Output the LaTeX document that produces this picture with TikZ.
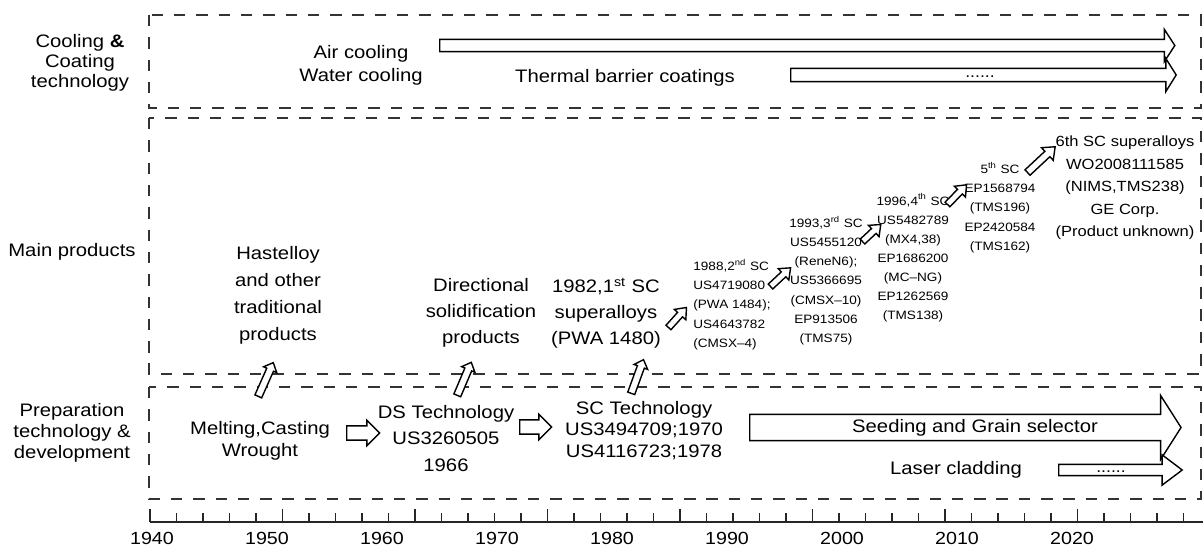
\documentclass[tikz,border=0pt]{standalone}
\usepackage{fontspec}
\setmainfont{Liberation Sans}[FakeStretch=1.12]
\usetikzlibrary{shapes.arrows}
\tikzset{>=latex}
\tikzset{
    box/.style={draw=black!80, line width=1.1pt, dash pattern=on 6.5pt off 6.2pt},
    bigtxt/.style={font=\fontsize{10.3}{#1}\selectfont, align=center, inner sep=0pt},
    bigtxt/.default=11.3pt,
    midtxt/.style={font=\fontsize{8.4}{12.8}\selectfont, align=center, inner sep=0pt},
    smalltxt/.style={font=\fontsize{6.9}{10.9}\selectfont, align=center, inner sep=0pt},
    dottxt/.style={font=\fontsize{9}{10}\selectfont, inner sep=0pt, anchor=base},
    hollow/.style={single arrow, draw=black, line width=0.8pt, fill=white,
        inner xsep=0pt, minimum width=0pt, anchor=tail},
    axisline/.style={draw=black!85, line width=1.1pt},
}

\begin{document}
\begin{tikzpicture}[x=0.02cm, y=-0.02cm]
    \useasboundingbox (0,0) rectangle (1203,547);
    % three bands
    \draw [box] (149,15) rectangle (1201,108);
    \draw [box] (149,118) rectangle (1201,374);
    \draw [box] (149,387) rectangle (1201,499);

    \node [bigtxt=11.3pt] (cool) at (80,63) {Cooling \textbf{\&}\\Coating\\technology};
    \node [bigtxt] (main) at (72,252) {Main products};
    \node [bigtxt=11.9pt] (prep) at (72,433) {Preparation\\technology \&\\development};

    % cooling & coating
    \node [bigtxt=13pt] (air) at (361,65) {Air cooling\\Water cooling};
    \node [bigtxt] (tbc) at (625,78) {Thermal barrier coatings};
    \node [hollow, minimum height=418.4pt, inner ysep=3.12pt, single arrow head extend=5.67pt, single arrow tip angle=114] (aair) at (439,45.5) {};
    \node [hollow, minimum height=219.4pt, inner ysep=3.4pt, single arrow head extend=5.67pt, single arrow tip angle=116] (atbc) at (790,75) {};
    \node [dottxt] (dtbc) at (980,77.5) {......};

    % products
    \node [bigtxt=15.3pt] (hast) at (278,295.5) {Hastelloy\\and other\\traditional\\products};
    \node [bigtxt=14.7pt] (dsp) at (481,313) {Directional\\solidification\\products};
    \node [bigtxt=14.7pt] (sc1) at (606,313) {1982,1\textsuperscript{st} SC\\superalloys\\(PWA 1480)};
    \node [smalltxt, align=left, anchor=west] (sc2) at (693,304.5) {1988,2\textsuperscript{nd} SC\\US4719080\\(PWA 1484);\\US4643782\\(CMSX--4)};
    \node [smalltxt] (sc3) at (826,280.5) {1993,3\textsuperscript{rd} SC\\US5455120\\(ReneN6);\\US5366695\\(CMSX--10)\\EP913506\\(TMS75)};
    \node [smalltxt] (sc4) at (913,258) {1996,4\textsuperscript{th} SC\\US5482789\\(MX4,38)\\EP1686200\\(MC--NG)\\EP1262569\\(TMS138)};
    \node [smalltxt] (sc5) at (1000,207.5) {5\textsuperscript{th} SC\\EP1568794\\(TMS196)\\EP2420584\\(TMS162)};
    \node [midtxt] (sc6) at (1125,188) {6th SC superalloys\\WO2008111585\\(NIMS,TMS238)\\GE Corp.\\(Product unknown)};

    \node [hollow, minimum height=15.3pt, inner ysep=1.5pt, single arrow head extend=2.5pt, single arrow tip angle=78, rotate=48] (a12) at (668,328) {};
    \node [hollow, minimum height=15.6pt, inner ysep=1.5pt, single arrow head extend=2.5pt, single arrow tip angle=78, rotate=43] (a23) at (770,287) {};
    \node [hollow, minimum height=14.2pt, inner ysep=1.5pt, single arrow head extend=2.5pt, single arrow tip angle=78, rotate=43] (a34) at (862,242) {};
    \node [hollow, minimum height=15.6pt, inner ysep=1.5pt, single arrow head extend=2.5pt, single arrow tip angle=78, rotate=46] (a45) at (947,205) {};
    \node [hollow, minimum height=21.5pt, inner ysep=1.7pt, single arrow head extend=2.8pt, single arrow tip angle=78, rotate=43] (a56) at (1027,173) {};

    % preparation
    \node [bigtxt=12.5pt] (melt) at (260,441) {Melting,Casting\\Wrought};
    \node [bigtxt=15pt] (ds) at (446,438.5) {DS Technology\\US3260505\\1966};
    \node [bigtxt=12.2pt] (sc) at (644,430.5) {SC Technology\\US3494709;1970\\US4116723;1978};
    \node [hollow, minimum height=18.7pt, inner ysep=3.68pt, single arrow head extend=3.12pt, single arrow tip angle=90] (m2ds) at (346,433) {};
    \node [hollow, minimum height=18.1pt, inner ysep=3.68pt, single arrow head extend=3.12pt, single arrow tip angle=90] (ds2sc) at (519,427) {};
    \node [hollow, minimum height=245.5pt, inner ysep=7.09pt, single arrow head extend=10.77pt, single arrow tip angle=115] (aseed) at (749,427.5) {};
    \node [bigtxt] (seed) at (975,428) {Seeding and Grain selector};
    \node [bigtxt] (laser) at (956,470) {Laser cladding};
    \node [hollow, minimum height=70.3pt, inner ysep=2.83pt, single arrow head extend=5.39pt, single arrow tip angle=74] (alaser) at (1058,470) {};
    \node [dottxt] (dlaser) at (1111,472.5) {......};

    % up arrows between bands
    \node [hollow, minimum height=21pt, inner ysep=1.7pt, single arrow head extend=2pt, single arrow tip angle=86, rotate=66] (u1) at (258,397) {};
    \node [hollow, minimum height=20.4pt, inner ysep=1.7pt, single arrow head extend=2pt, single arrow tip angle=86, rotate=67] (u2) at (457,396) {};
    \node [hollow, minimum height=20.4pt, inner ysep=1.7pt, single arrow head extend=2pt, single arrow tip angle=86, rotate=70] (u3) at (631,394) {};

    % time axis
    \draw [axisline] (150,522) -- (1203,522);
    \foreach \k in {0,...,39} {
        \pgfmathsetmacro\tl{ifthenelse(mod(\k,5)==0,13,9)}
        \draw [axisline] (150+26.5*\k,522) -- ++(0,-\tl);
    }
    \foreach \yr [count=\i from 0] in {1940,1950,...,2020}
        \node [bigtxt, font=\fontsize{10}{11}\selectfont] (y\yr) at (152+115*\i,538) {\yr};
\end{tikzpicture}
\end{document}
